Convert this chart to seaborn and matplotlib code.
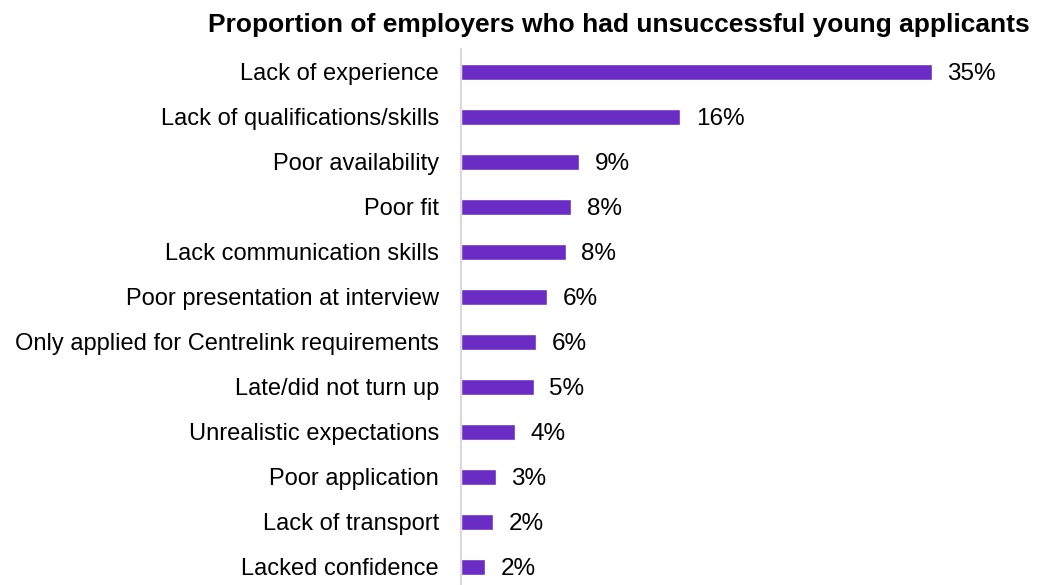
import matplotlib
matplotlib.use("Agg")
import matplotlib.pyplot as plt
import seaborn as sns
import pandas as pd

# -----------------------------
# DATA
# -----------------------------
reasons = [
    "Lack of experience",
    "Lack of qualifications/skills",
    "Poor availability",
    "Poor fit",
    "Lack communication skills",
    "Poor presentation at interview",
    "Only applied for Centrelink requirements",
    "Late/did not turn up",
    "Unrealistic expectations",
    "Poor application",
    "Lack of transport",
    "Lacked confidence",
]
shares = [35.0, 16.3, 8.8, 8.2, 7.8, 6.4, 5.6, 5.4, 4.0, 2.6, 2.4, 1.8]
share_labels = ["35%", "16%", "9%", "8%", "8%", "6%", "6%", "5%", "4%", "3%", "2%", "2%"]

df = pd.DataFrame({"reason": reasons, "share": shares})

# -----------------------------
# STYLE
# -----------------------------
sns.set_theme(style="white")
plt.rcParams["font.family"] = ["Liberation Sans", "DejaVu Sans"]

fig = plt.figure(figsize=(10.39, 5.85), dpi=100)
ax = fig.add_axes([0.4437, 0.0, 0.518, 0.9154])

sns.barplot(data=df, x="share", y="reason", orient="h", color="#6a2cc4",
            width=0.37, saturation=1, ax=ax)

ax.set_xlim(0, 40)
ax.set_ylim(11.4, -0.5)
ax.set_xlabel("")
ax.set_ylabel("")
ax.set_xticks([])
ax.tick_params(axis="y", length=0, pad=16, labelsize=17, labelcolor="black")

for side in ["top", "right", "bottom"]:
    ax.spines[side].set_visible(False)
ax.spines["left"].set_color("#d9d9d9")
ax.spines["left"].set_linewidth(1.5)

# value labels
for i, (v, lab) in enumerate(zip(shares, share_labels)):
    ax.text(v + 1.15, i, lab, va="center_baseline", ha="left", fontsize=17.5, color="black")

fig.text(0.596, 0.958, "Proportion of employers who had unsuccessful young applicants",
         ha="center", va="center", fontsize=19, fontweight="bold", color="black")

fig.savefig("out.png", dpi=100)
